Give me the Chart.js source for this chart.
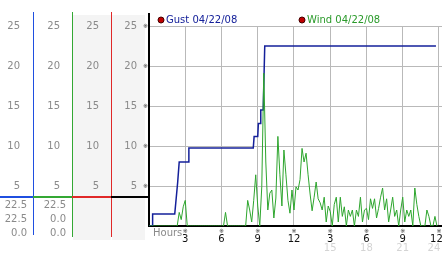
<!DOCTYPE html>
<html>
<head>
<meta charset="utf-8">
<script src="https://cdn.jsdelivr.net/npm/chart.js@4.4.1/dist/chart.umd.min.js"></script>
<style>
body { margin: 0; background: #fff; }
</style>
</head>
<body>
<canvas id="windChart" width="442" height="253"></canvas>
<script>
// series labels
const gustLabel = 'Gust 04/22/08'
const windLabel = 'Wind 04/22/08'

// gust (mph), x in hours
const gustHours  = [0, 0.3, 0.3, 2.13, 2.37, 2.5, 3.25, 3.3, 8.63, 8.7, 9.0, 9.05, 9.2, 9.25, 9.45, 9.58, 23.75]
const gustValues = [0, 0, 1.5, 1.5, 5.4, 8.0, 8.0, 9.75, 9.75, 11.2, 11.2, 12.8, 12.8, 14.5, 14.5, 22.5, 22.5]

// wind (mph), one sample every 10 minutes from midnight
const windStepMinutes = 10
const windValues = [
    0, 0, 0, 0, 0, 0, 0, 0, 0, 0, 0, 0, 0, 0, 0, 1.7, 0.8, 2.4, 3.2, 0,
    0, 0, 0, 0, 0, 0, 0, 0, 0, 0, 0, 0, 0, 0, 0, 0, 0, 0, 1.7, 0,
    0, 0, 0, 0, 0, 0, 0, 0, 0, 3.2, 2.0, 0.5, 3.2, 6.4, 2.5, 0, 4.9, 19.1, 8.0, 2.0,
    4.1, 4.5, 1.0, 3.5, 11.2, 6.4, 2.5, 9.5, 6.4, 3.2, 1.6, 4.5, 2.0, 4.9, 4.5, 5.8, 9.7, 8.0, 9.1, 6.4,
    4.0, 1.9, 3.6, 5.5, 3.4, 2.9, 2.0, 3.6, 0.5, 2.5, 1.8, 0, 2.7, 3.6, 0.5, 3.6, 1.2, 2.4, 0, 2.0,
    1.2, 2.0, 0, 2.0, 1.2, 3.6, 0.5, 2.0, 2.2, 0.8, 3.4, 2.2, 3.4, 1.0, 2.2, 3.6, 4.75, 2.0, 3.4, 0.5,
    2.0, 3.6, 1.2, 2.0, 0, 2.0, 3.6, 0.5, 2.0, 1.2, 2.0, 0, 4.75, 2.7, 1.2, 0, 0, 0, 2.0, 1.2,
    0, 0, 1.2, 0
]

// axis ticks
const valueTicks = [0, 5, 10, 15, 20, 25]
const hourTicks = [0, 3, 6, 9, 12, 15, 18, 21, 24]
const hourLabels = ['', '3', '6', '9', '12', '3', '6', '9', '12']
const pmTicks = [15, 18, 21, 24]
const pmLabels = ['15', '18', '21', '24']

// summary numbers under the divider (max / current / min)
const gustStats = ['22.5', '22.5', '0.0']
const windStats = ['22.5', '0.0', '0.0']

const gustColor = '#14209a'
const windColor = '#2ea62e'
const panelBlue = '#1f4fe0'
const panelGreen = '#34a834'
const panelRed = '#e02828'
const labelGray = '#8a8a8a'
const tickFont = { family: 'DejaVu Sans', size: 10 }

function panelAxis(weight, width, padding){
    return {
        position: 'left',
        weight: weight,
        min: 0,
        max: 25,
        afterBuildTicks: (s) => { s.ticks = valueTicks.map(v => ({ value: v })) },
        afterFit: (s) => { s.width = width },
        ticks: {
            color: labelGray,
            font: tickFont,
            padding: padding,
            callback: (v) => v === 0 ? '' : String(v)
        },
        grid: { display: false, drawTicks: false },
        border: { display: false }
    }
}

// let the last hour label hang over the edge instead of shrinking the plot
function noSidePadding(s, height){
    s.height = height
    s.paddingLeft = 0
    s.paddingRight = 0
}

// the label at the right edge is nudged left so it stays on the canvas
function edgeLabel(text, v, pad){
    return v === 24 ? text + pad : text
}

const panelsPlugin = {
    id: 'panels',
    beforeDraw(chart){
        const ctx = chart.ctx
        const s = chart.scales
        ctx.save()
        ctx.fillStyle = '#fff'
        ctx.fillRect(0, 0, chart.width, chart.height)
        ctx.fillStyle = '#f4f4f4'
        ctx.fillRect(s.p3.left + 1, 15, s.p3.right - s.p3.left - 1, 225)
        ctx.fillRect(s.p4.left + 1, 15, s.p4.right - s.p4.left + 1, 225)
        ctx.restore()
    },
    afterDraw(chart){
        const ctx = chart.ctx
        const s = chart.scales
        const area = chart.chartArea
        ctx.save()
        // panel separators, 1px wide
        const seps = [[s.p1.right, panelBlue, 235], [s.p2.right, panelGreen, 237], [s.p3.right, panelRed, 237]]
        seps.forEach(([x, c, bottom]) => {
            ctx.fillStyle = c
            ctx.fillRect(Math.round(x), 12, 1, bottom - 12)
        })
        // main axis runs up past the top gridline
        ctx.fillStyle = '#000'
        ctx.fillRect(area.left - 1, 13, 2, area.top - 12)
        // coloured divider
        const dy = area.bottom - 30
        const segs = [[0, s.p1.right, panelBlue], [s.p1.right, s.p2.right, panelGreen], [s.p2.right, s.p3.right, panelRed], [s.p3.right, area.left, '#000']]
        segs.forEach(([a, b, c]) => {
            ctx.fillStyle = c
            ctx.fillRect(a, dy, b - a, 2)
        })
        // stats
        ctx.font = '10px "DejaVu Sans"'
        ctx.fillStyle = labelGray
        ctx.textAlign = 'right'
        ctx.textBaseline = 'middle'
        for (let i = 0; i < 3; i++){
            ctx.fillText(gustStats[i], s.p1.right - 6, dy + 9 + i * 14)
            ctx.fillText(windStats[i], s.p2.right - 6, dy + 9 + i * 14)
        }
        // x axis marks and title
        ctx.textAlign = 'left'
        ctx.fillText('Hours', area.left + 4, area.bottom + 7)
        ctx.textAlign = 'center'
        ctx.fillStyle = '#333'
        ctx.font = '6px "DejaVu Sans"'
        hourTicks.slice(1).forEach(h => {
            ctx.fillText('※', s.x.getPixelForValue(h), area.bottom + 5)
        })
        // legend
        const items = [[gustLabel, gustColor, area.left + 12], [windLabel, '#2a9a2a', area.left + 153]]
        items.forEach(([text, c, x]) => {
            ctx.beginPath()
            ctx.arc(x, 20, 3, 0, Math.PI * 2)
            ctx.fillStyle = '#c00000'
            ctx.fill()
            ctx.strokeStyle = '#400'
            ctx.lineWidth = 1
            ctx.stroke()
            ctx.font = '10px "DejaVu Sans"'
            ctx.textAlign = 'left'
            ctx.fillStyle = c
            ctx.fillText(text, x + 5, 20)
        })
        ctx.restore()
    }
}

new Chart(document.getElementById('windChart').getContext('2d'), {
    type: 'line',
    data: {
        datasets: [{
            label: windLabel,
            data: windValues.map((v, i) => ({ x: i * windStepMinutes / 60, y: v })),
            borderColor: windColor,
            borderWidth: 1,
            pointRadius: 0,
            tension: 0,
            fill: false
        }, {
            label: gustLabel,
            data: gustHours.map((h, i) => ({ x: h, y: gustValues[i] })),
            borderColor: gustColor,
            borderWidth: 1.5,
            pointRadius: 0,
            tension: 0,
            fill: false
        }]
    },
    options: {
        responsive: false,
        animation: false,
        devicePixelRatio: 1,
        layout: { padding: { top: 26, right: 0, bottom: 0, left: 0 } },
        plugins: {
            legend: { display: false },
            tooltip: { enabled: false }
        },
        scales: {
            x: {
                type: 'linear',
                position: 'bottom',
                weight: 0,
                min: 0,
                max: 24.25,
                afterBuildTicks: (s) => { s.ticks = hourTicks.map(v => ({ value: v })) },
                afterFit: (s) => noSidePadding(s, 16),
                ticks: {
                    color: '#111',
                    font: tickFont,
                    padding: 7,
                    maxRotation: 0,
                    autoSkip: false,
                    callback: (v) => edgeLabel(hourLabels[hourTicks.indexOf(v)], v, '\u2002')
                },
                grid: { color: '#b9b9b9', drawTicks: false },
                border: { color: '#000', width: 2 }
            },
            x2: {
                type: 'linear',
                position: 'bottom',
                weight: 1,
                min: 0,
                max: 24.25,
                afterBuildTicks: (s) => { s.ticks = pmTicks.map(v => ({ value: v })) },
                afterFit: (s) => noSidePadding(s, 11),
                ticks: {
                    color: '#d4d4d4',
                    font: tickFont,
                    padding: 0,
                    maxRotation: 0,
                    autoSkip: false,
                    callback: (v) => edgeLabel(pmLabels[pmTicks.indexOf(v)], v, '\u2003')
                },
                grid: { display: false, drawTicks: false },
                border: { display: false }
            },
            y: {
                position: 'left',
                weight: 0,
                min: 0,
                max: 25,
                afterBuildTicks: (s) => { s.ticks = valueTicks.map(v => ({ value: v })) },
                afterFit: (s) => { s.width = 6 },
                ticks: {
                    color: '#333',
                    font: { family: 'DejaVu Sans', size: 6 },
                    padding: 1,
                    callback: (v) => v === 0 ? '' : '※'
                },
                grid: { color: '#b9b9b9', drawTicks: false },
                border: { color: '#000', width: 2 }
            },
            p4: panelAxis(1, 32, 6),
            p3: panelAxis(2, 39, 12),
            p2: panelAxis(3, 39, 12),
            p1: panelAxis(4, 33, 13)
        }
    },
    plugins: [panelsPlugin]
})
</script>
</body>
</html>
